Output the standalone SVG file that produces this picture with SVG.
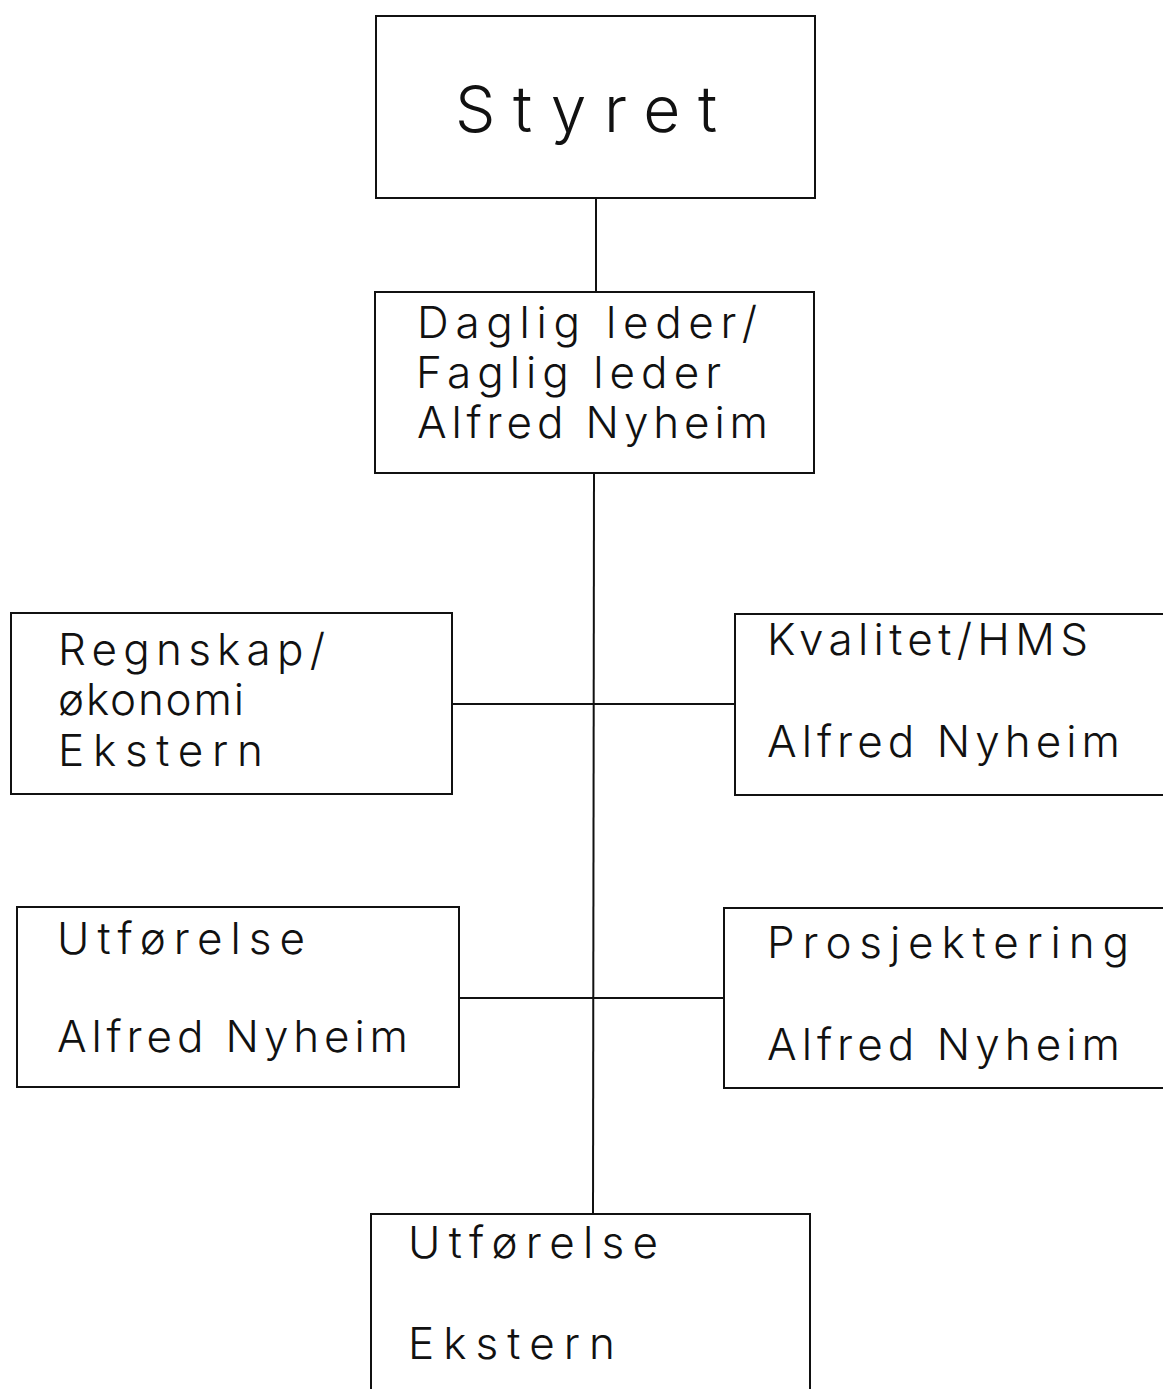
<svg xmlns="http://www.w3.org/2000/svg" width="1163" height="1389" viewBox="0 0 1163 1389">
<style>
.box{fill:#fff;stroke:#111;stroke-width:2}
.ln{stroke:#111;stroke-width:2;fill:none}
.t{font-family:"Inter","Liberation Sans",sans-serif;font-weight:300;fill:#111;font-size:44px}
.big{font-size:64px}
</style>
<rect width="1163" height="1389" fill="#fff"/>
<g id="connectors">
<line class="ln" x1="596" y1="198" x2="596" y2="292"/>
<line class="ln" x1="594" y1="473" x2="593" y2="1214"/>
<line class="ln" x1="452" y1="704" x2="735" y2="704"/>
<line class="ln" x1="459" y1="998" x2="724" y2="998"/>
</g>
<g id="styret">
<rect class="box" x="376" y="16" width="439" height="182"/>
<text class="t big" x="455" y="132" textLength="262" lengthAdjust="spacing">Styret</text>
</g>
<g id="daglig">
<rect class="box" x="375" y="292" width="439" height="181"/>
<text class="t" x="417" y="338" textLength="340" lengthAdjust="spacing">Daglig leder/</text>
<text class="t" x="416" y="388" textLength="305" lengthAdjust="spacing">Faglig leder</text>
<text class="t" x="417" y="438" textLength="351" lengthAdjust="spacing">Alfred Nyheim</text>
</g>
<g id="regnskap">
<rect class="box" x="11" y="613" width="441" height="181"/>
<text class="t" x="58" y="665" textLength="267" lengthAdjust="spacing">Regnskap/</text>
<text class="t" x="58" y="715" textLength="186" lengthAdjust="spacing">økonomi</text>
<text class="t" x="58" y="766" textLength="205" lengthAdjust="spacing">Ekstern</text>
</g>
<g id="kvalitet">
<rect class="box" x="735" y="614" width="440" height="181"/>
<text class="t" x="767" y="655" textLength="321" lengthAdjust="spacing">Kvalitet/HMS</text>
<text class="t" x="767" y="757" textLength="353" lengthAdjust="spacing">Alfred Nyheim</text>
</g>
<g id="utforelse">
<rect class="box" x="17" y="907" width="442" height="180"/>
<text class="t" x="57" y="954" textLength="248" lengthAdjust="spacing">Utførelse</text>
<text class="t" x="57" y="1052" textLength="351" lengthAdjust="spacing">Alfred Nyheim</text>
</g>
<g id="prosjektering">
<rect class="box" x="724" y="908" width="450" height="180"/>
<text class="t" x="767" y="958" textLength="362" lengthAdjust="spacing">Prosjektering</text>
<text class="t" x="767" y="1060" textLength="353" lengthAdjust="spacing">Alfred Nyheim</text>
</g>
<g id="utforelse-ekstern">
<rect class="box" x="371" y="1214" width="439" height="190"/>
<text class="t" x="408" y="1258" textLength="250" lengthAdjust="spacing">Utførelse</text>
<text class="t" x="408" y="1359" textLength="207" lengthAdjust="spacing">Ekstern</text>
</g>
</svg>
